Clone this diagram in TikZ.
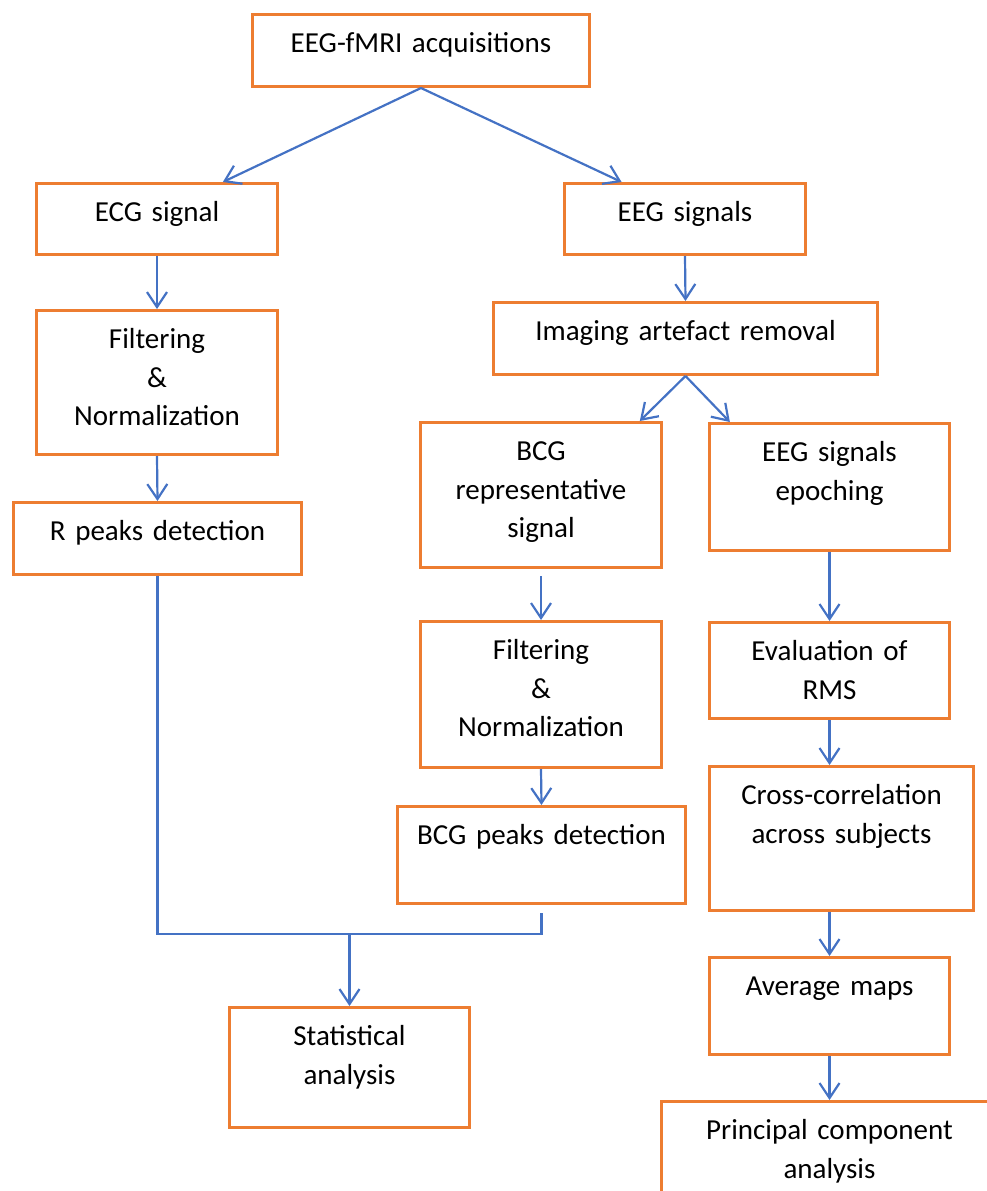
\documentclass[tikz,border=0pt]{standalone}
\usepackage{fontspec}
\setmainfont{Carlito}
\usepackage{tikz}
\usetikzlibrary{positioning, arrows.meta, calc}
\definecolor{boxorange}{RGB}{237,125,49}
\definecolor{flowblue}{RGB}{68,114,196}

\begin{document}
\begin{tikzpicture}[x=1pt, y=-1pt,
    box/.style 2 args={rectangle, draw=boxorange, line width=3pt, inner sep=0pt, anchor=north west, align=center,
        font=\fontsize{29}{38.5}\selectfont, text height=38pt, text width=#1, text depth=#2},
    arrow/.style={-{Straight Barb[length=15pt, width=20pt]}, draw=flowblue, line width=2.2pt},
    link/.style={draw=flowblue, line width=2.2pt}
]
    \useasboundingbox (0,0) rectangle (986,1191);

    % === ACQUISITION ===
    \node[box={337pt}{34pt}] (acq) at (251,13) {EEG-fMRI acquisitions};

    % === ECG BRANCH ===
    \node[box={241pt}{33pt}] (ecg) at (35,182) {ECG signal};
    \node[box={241pt}{106pt}] (filtecg) at (35,309) {Filtering\\\&\\Normalization};
    \node[box={288pt}{34pt}] (rpeaks) at (12,501) {R peaks detection};

    % === EEG BRANCH ===
    \node[box={241pt}{33pt}] (eegsig) at (563,182) {EEG signals};
    \node[box={384pt}{34pt}] (imgart) at (492,301) {Imaging artefact removal};

    % BCG side
    \node[box={241pt}{107pt}] (bcgrep) at (419,421) {BCG\\representative\\signal};
    \node[box={241pt}{108pt}] (filtbcg) at (419,620) {Filtering\\\&\\Normalization};
    \node[box={288pt}{59pt}] (bcgpk) at (396,805) {BCG peaks detection};

    % epoching side
    \node[box={240pt}{89pt}] (epoch) at (708,422) {EEG signals\\epoching};
    \node[box={240pt}{58pt}] (rms) at (708,621) {Evaluation of\\RMS};
    \node[box={264pt}{106pt}] (xcorr) at (708,765) {Cross-correlation\\across subjects};
    \node[box={240pt}{59pt}] (avg) at (708,956) {Average maps};
    \node[box={336pt}{82pt}] (pca) at (660,1100) {Principal component\\analysis};

    % === STATISTICS ===
    \node[box={240pt}{82pt}] (stat) at (228,1006) {Statistical\\analysis};

    % === ARROWS ===
    \draw[arrow] (acq.south) -- ($(ecg.north west)!0.77!(ecg.north east)$);
    \draw[arrow] (acq.south) -- ($(eegsig.north west)!0.24!(eegsig.north east)$);
    \draw[arrow] (ecg.south) -- (filtecg.north);
    \draw[arrow] (filtecg.south) -- (rpeaks.north);
    \draw[arrow] (eegsig.south) -- (imgart.north);
    \draw[arrow] (imgart.south) -- ($(bcgrep.north west)!0.905!(bcgrep.north east)$);
    \draw[arrow] (imgart.south) -- ($(epoch.north west)!0.09!(epoch.north east)$);
    \draw[arrow, shorten <=7pt] (bcgrep.south) -- (filtbcg.north);
    \draw[arrow] (filtbcg.south) -- (bcgpk.north);
    \draw[arrow] (epoch.south) -- (rms.north);
    \draw[arrow] (rms.south) -- (rms.south |- xcorr.north);
    \draw[arrow] (avg.north |- xcorr.south) -- (avg.north);
    \draw[arrow] (avg.south) -- (pca.north);

    % === MERGE TO STATISTICS ===
    \coordinate (mergey) at (0,934);
    \coordinate (merge) at (stat.north |- mergey);
    \draw[link] (rpeaks.south) |- (merge) -| ([yshift=-8pt]bcgpk.south);
    \draw[arrow] (merge) -- (stat.north);

\end{tikzpicture}
\end{document}
